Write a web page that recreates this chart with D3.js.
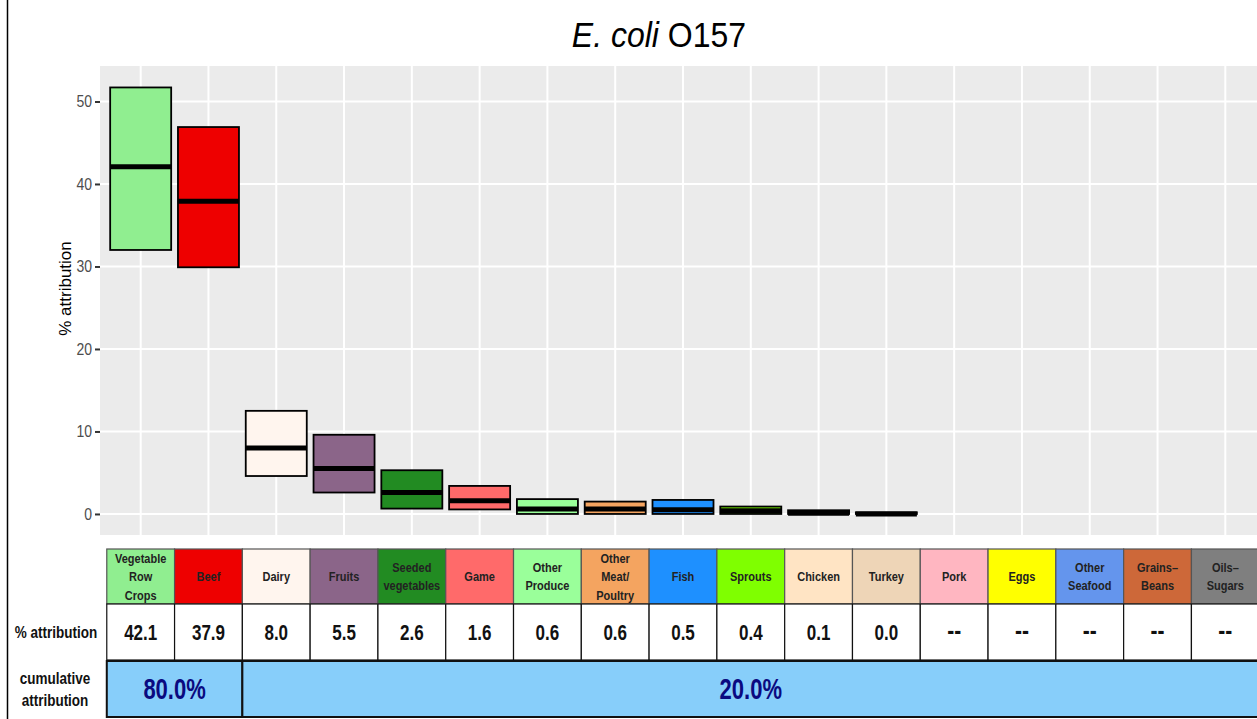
<!DOCTYPE html>
<html><head><meta charset="utf-8">
<script src="https://cdn.jsdelivr.net/npm/d3@7/dist/d3.min.js"></script>
<style>body{margin:0;background:#fff;}svg{display:block;font-family:"Liberation Sans",Arial,sans-serif;}</style>
</head><body>
<svg id="c" width="1257" height="719"></svg>
<script>
const categories = ["Vegetable Row Crops","Beef","Dairy","Fruits","Seeded vegetables","Game","Other Produce","Other Meat/Poultry","Fish","Sprouts","Chicken","Turkey","Pork","Eggs","Other Seafood","Grains-Beans","Oils-Sugars"];
const headerLabels = [["Vegetable","Row","Crops"],["Beef"],["Dairy"],["Fruits"],["Seeded","vegetables"],["Game"],["Other","Produce"],["Other","Meat/","Poultry"],["Fish"],["Sprouts"],["Chicken"],["Turkey"],["Pork"],["Eggs"],["Other","Seafood"],["Grains–","Beans"],["Oils–","Sugars"]];
const medians = [42.1,37.9,8.0,5.5,2.6,1.6,0.6,0.6,0.5,0.4,0.1,0.0,null,null,null,null,null];
const lowers  = [32.0,29.9,4.6,2.6,0.65,0.55,0.0,0.0,0.0,0.0,0.0,0.0,null,null,null,null,null];
const uppers  = [51.7,46.9,12.5,9.6,5.3,3.4,1.8,1.5,1.7,0.9,0.45,0.2,null,null,null,null,null];
const valueLabels = ["42.1","37.9","8.0","5.5","2.6","1.6","0.6","0.6","0.5","0.4","0.1","0.0","--","--","--","--","--"];
const fills = ["#90EE90","#EE0000","#FFF5EE","#8B6589","#228B22","#FF6A6A","#9AFF9A","#F4A460","#1E90FF","#7FFF00","#FFE4C4","#EED5B7","#FFB6C1","#FFFF00","#6495ED","#CD6839","#7F7F7F"];
const yTicks = [0,10,20,30,40,50];
const cumulativeLabels = ["80.0%","20.0%"];
const cumulativeSpans = [[0,1],[2,16]];

const svg = d3.select("#c");
const P = {left:100, right:1266, top:66, bottom:535};

const x = d3.scalePoint().domain(categories).range([P.left, P.right]).padding(0.6);
const step = x.step();
const y = d3.scaleLinear().domain([-2.55, 54.3]).range([P.bottom, P.top]);

// stretched text helper (reference text is vertically elongated)
function sText(parent, px, py, sy, size, weight, fill, str){
  return parent.append("text").attr("transform",`translate(${px},${py}) scale(1,${sy})`)
    .attr("text-anchor","middle").attr("font-size",size).attr("font-weight",weight).attr("fill",fill).text(str);
}

// left border line
svg.append("line").attr("x1",7.5).attr("x2",7.5).attr("y1",0).attr("y2",719).attr("stroke","#000").attr("stroke-width",1.5);

// title
const title = svg.append("text").attr("transform","translate(659,47) scale(1,1.08)").attr("text-anchor","middle").attr("font-size",32).attr("fill","#000");
title.append("tspan").attr("font-style","italic").text("E. coli");
title.append("tspan").text(" O157");

// panel
svg.append("rect").attr("x",P.left).attr("y",P.top).attr("width",P.right-P.left).attr("height",P.bottom-P.top).attr("fill","#EBEBEB");
const g = svg.append("g");
g.selectAll(".hg").data(yTicks).join("line").attr("x1",P.left).attr("x2",P.right).attr("y1",d=>y(d)).attr("y2",d=>y(d)).attr("stroke","#fff").attr("stroke-width",2);
g.selectAll(".vg").data(categories).join("line").attr("x1",d=>x(d)).attr("x2",d=>x(d)).attr("y1",P.top).attr("y2",P.bottom).attr("stroke","#fff").attr("stroke-width",2);

// y axis
const yAxis = d3.axisLeft(y).tickValues(yTicks).tickSize(5).tickPadding(3);
const ya = svg.append("g").attr("transform",`translate(${P.left},0)`).call(yAxis);
ya.select(".domain").remove();
ya.selectAll(".tick line").attr("stroke","#333").attr("stroke-width",2);
ya.selectAll(".tick text").attr("fill","#4D4D4D").attr("font-size",14).attr("font-family","Liberation Sans, Arial, sans-serif")
  .attr("transform","scale(1,1.18)").attr("y",d=>0).attr("dy","0.32em");
svg.append("text").attr("transform",`translate(71,${(P.top+P.bottom)/2 - 12}) rotate(-90)`).attr("text-anchor","middle").attr("font-size",17).attr("fill","#000").text("% attribution");

// crossbars
const boxData = categories.map((c,i)=>({c,i,m:medians[i],lo:lowers[i],hi:uppers[i]})).filter(d=>d.m!==null);
const bw = step*0.9;
const bg = svg.append("g");
bg.selectAll("rect").data(boxData).join("rect")
  .attr("x",d=>x(d.c)-bw/2).attr("width",bw)
  .attr("y",d=>y(d.hi)).attr("height",d=>Math.max(0,y(d.lo)-y(d.hi)))
  .attr("fill",d=>fills[d.i]).attr("stroke","#000").attr("stroke-width",1.8);
bg.selectAll("line").data(boxData).join("line")
  .attr("x1",d=>x(d.c)-bw/2).attr("x2",d=>x(d.c)+bw/2)
  .attr("y1",d=>y(d.m)).attr("y2",d=>y(d.m))
  .attr("stroke","#000").attr("stroke-width",5);

// table
const T = {h0:549, h1:604, v1:660, c1:717};
const tg = svg.append("g");
categories.forEach((c,i)=>{
  const cx = x(c), l = cx-step/2;
  tg.append("rect").attr("x",l).attr("y",T.h0).attr("width",step).attr("height",T.h1-T.h0).attr("fill",fills[i]).attr("stroke","#555").attr("stroke-width",1.2);
  const lines = headerLabels[i];
  const lh = 18.5;
  const startY = (T.h0+T.h1)/2 - (lines.length-1)*lh/2 + 4.5;
  lines.forEach((ln,k)=>sText(tg, cx, startY+k*lh, 1.18, 11, "bold", "#222", ln));
  tg.append("rect").attr("x",l).attr("y",T.h1).attr("width",step).attr("height",T.v1-T.h1).attr("fill","#fff").attr("stroke","#111").attr("stroke-width",1.2);
  const dash = valueLabels[i]==="--";
  sText(tg, cx, (T.h1+T.v1)/2+(dash?7:8), 1.25, dash?21:17, "bold", "#111", valueLabels[i]);
});
cumulativeSpans.forEach((s,k)=>{
  const l = x(categories[s[0]])-step/2, r = x(categories[s[1]])+step/2;
  tg.append("rect").attr("x",l).attr("y",T.v1+1).attr("width",r-l).attr("height",T.c1-T.v1-1).attr("fill","#87CEFA").attr("stroke","#111").attr("stroke-width",2);
  sText(tg, (l+r)/2, (T.v1+T.c1)/2+10, 1.3, 22, "bold", "#0A0A80", cumulativeLabels[k]);
});
sText(tg, 56, 638, 1.2, 13.5, "bold", "#111", "% attribution");
sText(tg, 55, 684, 1.2, 13.5, "bold", "#111", "cumulative");
sText(tg, 55, 706, 1.2, 13.5, "bold", "#111", "attribution");
</script>
</body></html>
